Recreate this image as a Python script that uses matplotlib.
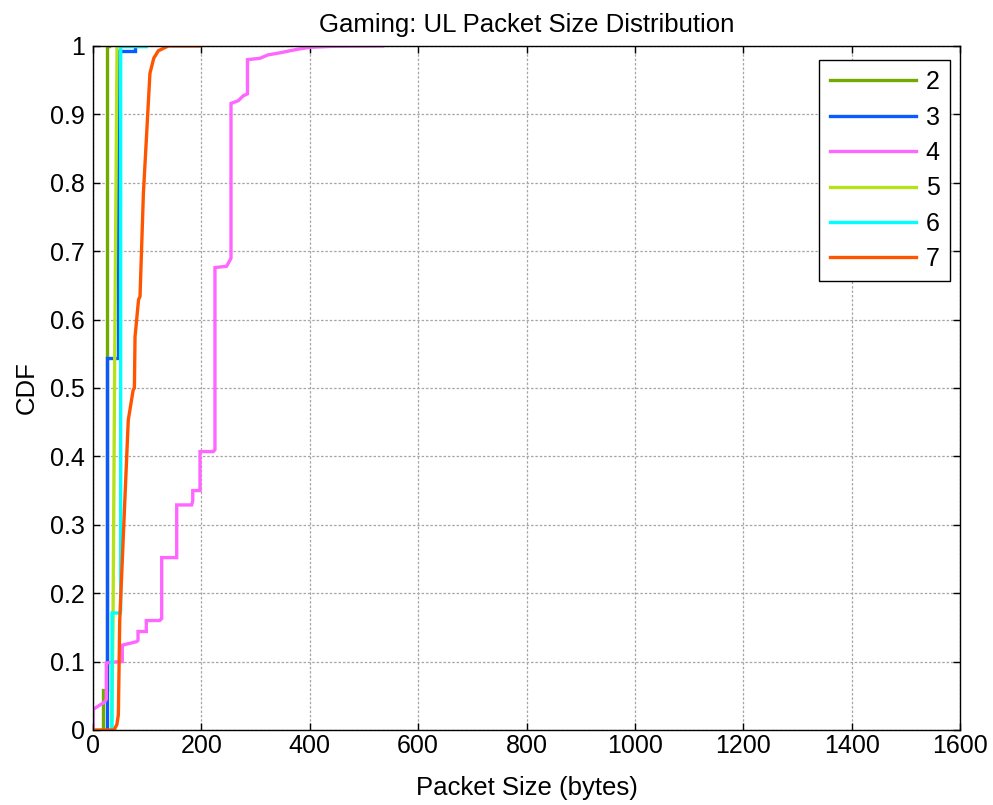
import matplotlib.pyplot as plt
from matplotlib.ticker import FuncFormatter

plt.rcParams['font.family'] = ['Liberation Sans', 'DejaVu Sans']

# CDF vertices (packet size in bytes, cumulative probability)
size_2 = [0, 18, 18, 25.8, 25.8, 30]
cdf_2 = [0, 0, 0.058, 0.058, 1.0, 1.0]

size_3 = [25.3, 25.3, 45.5, 45.5, 77, 77]
cdf_3 = [0, 0.544, 0.544, 0.993, 0.993, 1.0]

size_4 = [0, 0, 21.5, 24.5, 24.5, 49.3, 54, 54, 80, 83, 83, 98.3, 98.3, 123, 126.7,
          126.7, 154.4, 154.4, 182, 184, 184, 197.4, 197.4, 222, 225, 225, 246.6,
          252.8, 254.6, 254.6, 268, 277, 285, 285, 308, 323, 345, 376, 400, 443, 534.5]
cdf_4 = [0, 0.03, 0.041, 0.045, 0.098, 0.1, 0.1, 0.124, 0.129, 0.131, 0.144, 0.144,
         0.16, 0.16, 0.163, 0.252, 0.252, 0.329, 0.329, 0.335, 0.35, 0.35, 0.407,
         0.407, 0.41, 0.676, 0.678, 0.687, 0.69, 0.916, 0.92, 0.927, 0.93, 0.98,
         0.982, 0.987, 0.99, 0.995, 0.998, 0.9995, 1.0]

size_5 = [34, 34.5, 36.9, 40, 44.3]
cdf_5 = [0, 0.022, 0.161, 0.546, 1.0]

size_6 = [35, 35, 50.4, 51, 51, 98, 98]
cdf_6 = [0, 0.171, 0.171, 0.175, 0.999, 0.999, 1.0]

size_7 = [0, 38.7, 44, 46.7, 49.3, 65, 74, 76.3, 77.5, 84, 86.7, 92.9, 105, 112,
          120.5, 139, 197]
cdf_7 = [0, 0, 0.008, 0.022, 0.161, 0.453, 0.497, 0.5, 0.575, 0.629, 0.634, 0.784,
         0.96, 0.982, 0.993, 1.0, 1.0]

series = [
    ("2", size_2, cdf_2, "#74AA00"),
    ("3", size_3, cdf_3, "#0A5AFF"),
    ("4", size_4, cdf_4, "#FF66FF"),
    ("5", size_5, cdf_5, "#B5E31A"),
    ("6", size_6, cdf_6, "#00FFFF"),
    ("7", size_7, cdf_7, "#FF5500"),
]

fig = plt.figure(figsize=(9.93, 8.05), dpi=100)
ax = fig.add_axes([0.0937, 0.0932, 0.8731, 0.8497])

for name, xs, ys, col in series:
    ax.plot(xs, ys, color=col, linewidth=2.4, label=name, solid_joinstyle="miter")

ax.set_xlim(0, 1600)
ax.set_ylim(0, 1)
ax.set_xticks(range(0, 1601, 200))
ax.set_yticks([i / 10 for i in range(11)])
ax.yaxis.set_major_formatter(FuncFormatter(lambda v, p: "%g" % round(v, 1)))

ax.grid(True, color="#a6a6a6", linestyle=(0, (2, 1.5)), linewidth=0.9)
ax.set_axisbelow(True)

ax.tick_params(direction="in", length=5, width=1, top=True, right=True,
               labelsize=18, colors="black")
ax.tick_params(axis="x", pad=3)
ax.tick_params(axis="y", pad=6)
for sp in ax.spines.values():
    sp.set_linewidth(1.0)

ax.set_xlabel("Packet Size (bytes)", fontsize=18.5, labelpad=13)
ax.set_ylabel("CDF", fontsize=18.5, labelpad=8)
ax.set_title("Gaming: UL Packet Size Distribution", fontsize=18.5, pad=10)

leg = ax.legend(loc="upper right", bbox_to_anchor=(0.9885, 0.9795), borderaxespad=0,
                fontsize=18, fancybox=False, framealpha=1, edgecolor="black",
                borderpad=0.41, labelspacing=0.455, handlelength=3.45, handletextpad=0.4)
leg.get_frame().set_linewidth(1.0)

fig.savefig("out.png", dpi=100)
